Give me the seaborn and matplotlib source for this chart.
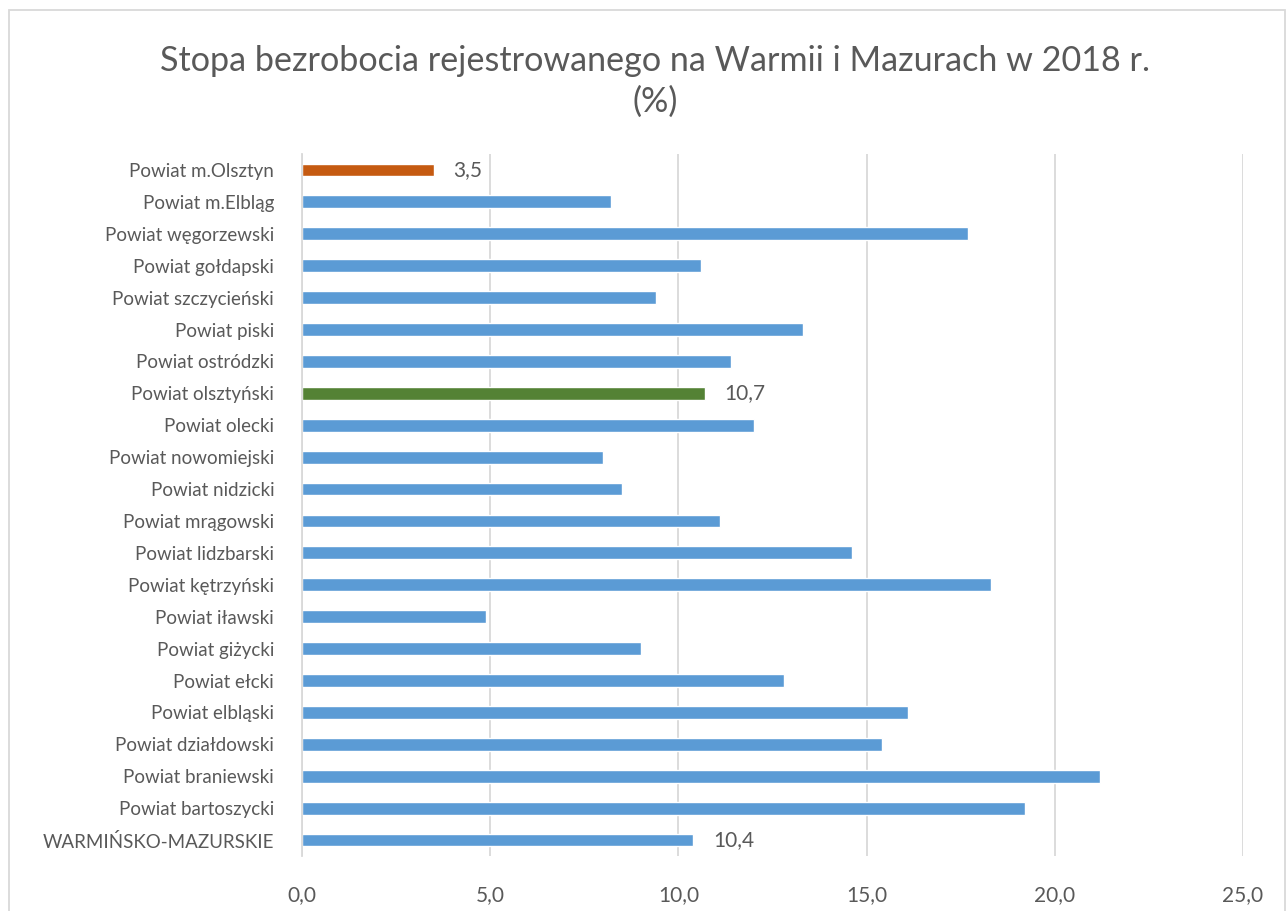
import matplotlib
matplotlib.use("Agg")
import matplotlib.pyplot as plt
from matplotlib.patches import Rectangle
from matplotlib.ticker import FuncFormatter
import pandas as pd
import seaborn as sns

# ─── Data ───────────────────────────────────────────────────────────────────
powiaty = [
    "Powiat m.Olsztyn", "Powiat m.Elbląg", "Powiat węgorzewski", "Powiat gołdapski",
    "Powiat szczycieński", "Powiat piski", "Powiat ostródzki", "Powiat olsztyński",
    "Powiat olecki", "Powiat nowomiejski", "Powiat nidzicki", "Powiat mrągowski",
    "Powiat lidzbarski", "Powiat kętrzyński", "Powiat iławski", "Powiat giżycki",
    "Powiat ełcki", "Powiat elbląski", "Powiat działdowski", "Powiat braniewski",
    "Powiat bartoszycki", "WARMIŃSKO-MAZURSKIE",
]
stopa = [3.5, 8.2, 17.7, 10.6, 9.4, 13.3, 11.4, 10.7, 12.0, 8.0, 8.5, 11.1,
         14.6, 18.3, 4.9, 9.0, 12.8, 16.1, 15.4, 21.2, 19.2, 10.4]
labelled = ["Powiat m.Olsztyn", "Powiat olsztyński", "WARMIŃSKO-MAZURSKIE"]
x_ticks = [0, 5, 10, 15, 20, 25]

BLUE = "#5B9BD5"
ORANGE = "#C55A11"
GREEN = "#548235"
TEXT = "#595959"
GRID = "#D9D9D9"

colors = {p: BLUE for p in powiaty}
colors["Powiat m.Olsztyn"] = ORANGE
colors["Powiat olsztyński"] = GREEN

df = pd.DataFrame({"powiat": powiaty, "stopa": stopa})

sns.set_theme(style="white")
plt.rcParams["font.family"] = ["Lato", "DejaVu Sans"]

fig = plt.figure(figsize=(12.86, 9.11), dpi=100)
W, H = 1286, 911
ax = fig.add_axes([302 / W, 1 - 856 / H, (1243 - 302) / W, (856 - 154) / H])

sns.barplot(data=df, y="powiat", x="stopa", hue="powiat", palette=colors,
            orient="h", width=0.4, legend=False, ax=ax, saturation=1)

ax.set_xlim(0, 25)
ax.set_xticks(x_ticks)
ax.xaxis.set_major_formatter(FuncFormatter(lambda v, _: f"{v:.1f}".replace(".", ",")))
ax.grid(axis="x", color=GRID, linewidth=1.3)
ax.set_axisbelow(True)
for s in ["top", "right", "bottom"]:
    ax.spines[s].set_visible(False)
ax.spines["left"].set_color(GRID)
ax.spines["left"].set_linewidth(1.3)
ax.set_xlabel("")
ax.set_ylabel("")
ax.tick_params(axis="both", length=0, colors=TEXT)
ax.tick_params(axis="y", pad=20, labelsize=13.5)
ax.tick_params(axis="x", pad=21, labelsize=15)

# value labels on selected bars
for container in ax.containers:
    for bar in container:
        idx = int(round(bar.get_y() + bar.get_height() / 2))
        if powiaty[idx] in labelled:
            ax.text(bar.get_width() + 0.52, idx, f"{stopa[idx]:.1f}".replace(".", ","),
                    va="center", ha="left", fontsize=15, color=TEXT)

fig.text(655 / W, 1 - 61 / H, "Stopa bezrobocia rejestrowanego na Warmii i Mazurach w 2018 r.",
         ha="center", va="center", fontsize=24.6, color=TEXT)
fig.text(655 / W, 1 - 102 / H, "(%)", ha="center", va="center", fontsize=24.6, color=TEXT)

# chart border
fig.patches.append(Rectangle((9 / W, -0.05), (1285 - 9) / W, 1.05 - 10 / H,
                             transform=fig.transFigure, fill=False,
                             edgecolor=GRID, linewidth=1.3))

fig.savefig("out.png", dpi=100, facecolor="white")
